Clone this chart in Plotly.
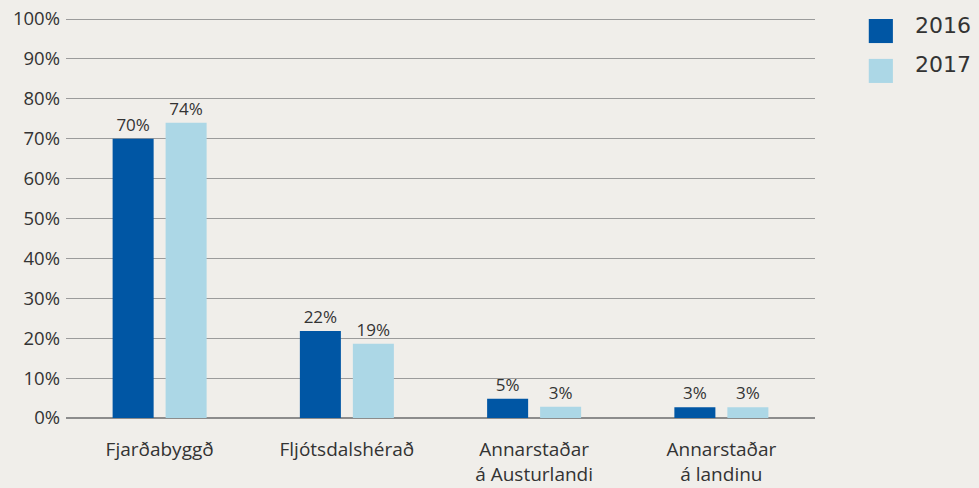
import plotly.graph_objects as go

categories = ["Fjarðabyggð", "Fljótsdalshérað", "Annarstaðar<br>á Austurlandi", "Annarstaðar<br>á landinu"]
series_names = ["2016", "2017"]
values_2016 = [70, 21.8, 4.8, 2.7]
values_2017 = [74, 18.6, 2.8, 2.7]
labels_2016 = ["70%", "22%", "5%", "3%"]
labels_2017 = ["74%", "19%", "3%", "3%"]
colors = ["#0056a4", "#acd7e6"]
tick_vals = [0, 10, 20, 30, 40, 50, 60, 70, 80, 90, 100]
tick_text = [f"{v}%" for v in tick_vals]

bg = "#f0eeea"
font_family = "'Open Sans', sans-serif"
txt = "#333333"

fig = go.Figure()
for name, vals, labs, col in [(series_names[0], values_2016, labels_2016, colors[0]),
                              (series_names[1], values_2017, labels_2017, colors[1])]:
    fig.add_trace(go.Bar(
        x=categories, y=vals, name=name, marker=dict(color=col, line=dict(width=0)),
        text=labs, textposition="outside", cliponaxis=False,
        textfont=dict(size=17, color=txt, family=font_family),
        showlegend=False, hoverinfo="skip",
    ))

fig.update_layout(
    width=979, height=488,
    margin=dict(l=66, r=164, t=17, b=70),
    paper_bgcolor=bg, plot_bgcolor=bg,
    barmode="group", bargap=0.434, bargroupgap=0.226,
    font=dict(family=font_family, color=txt),
    xaxis=dict(showgrid=False, showline=False, ticks="", ticklabelstandoff=18,
               automargin=False, tickfont=dict(size=19, color=txt)),
    yaxis=dict(range=[0, 100.5], tickvals=tick_vals, ticktext=tick_text,
               showgrid=True, gridcolor="#9b9b9b", gridwidth=1,
               zeroline=True, zerolinecolor="#8c8c8c", zerolinewidth=2.5,
               showline=False, ticks="", ticklabelstandoff=5, automargin=False,
               tickfont=dict(size=18.5, color=txt)),
)

# legend drawn manually to match large square swatches
for i, (name, col) in enumerate(zip(series_names, colors)):
    y_top = (100 - i * 10) / 100.5
    fig.add_shape(type="rect", xref="paper", yref="paper",
                  x0=1.0718, x1=1.104, y0=y_top - 0.06, y1=y_top,
                  fillcolor=col, line=dict(width=0))
    fig.add_annotation(xref="paper", yref="paper", x=1.131, y=y_top - 0.015,
                       text=name, showarrow=False, xanchor="left", yanchor="middle",
                       font=dict(size=22, color=txt, family="'DejaVu Sans', sans-serif"))

fig.write_html("out.html", config={"displayModeBar": False, "staticPlot": True})

# remove default page margin so the figure sits at the window origin
with open("out.html", encoding="utf-8") as f:
    html = f.read()
html = html.replace("<head>", "<head><style>html,body{margin:0;padding:0;overflow:hidden;}</style>", 1)
with open("out.html", "w", encoding="utf-8") as f:
    f.write(html)
